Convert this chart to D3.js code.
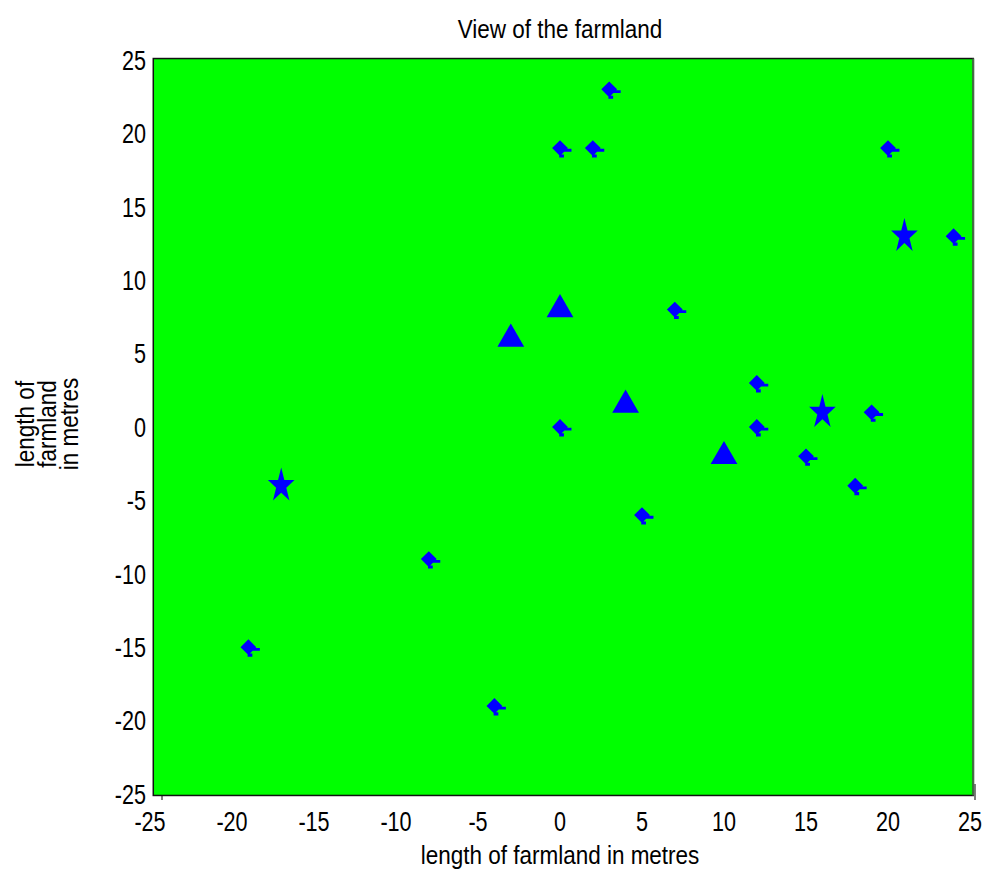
<!DOCTYPE html>
<html>
<head>
<meta charset="utf-8">
<script src="https://cdn.jsdelivr.net/npm/d3@7"></script>
<style>
  body { margin: 0; background: #fff; }
  text { font-family: "Liberation Sans", Arial, sans-serif; fill: #000; }
</style>
</head>
<body>
<div id="chart"></div>
<script>
// data
const plusX = [3, 0, 2, 20, 24, 7, 12, 0, 12, 19, 15, 18, 5, -8, -19, -4];
const plusY = [23, 19, 19, 19, 13, 8, 3, 0, 0, 1, -2, -4, -6, -9, -15, -19];
const triX = [0, -3, 4, 10];
const triY = [8, 6, 1.5, -2];
const starX = [-17, 16, 21];
const starY = [-4, 1, 13];
const ticks = [-25, -20, -15, -10, -5, 0, 5, 10, 15, 20, 25];
const fieldX = [-24.8, 25.2];
const fieldY = [-25.1, 25.1];

const W = 991, H = 872;
const svg = d3.select("#chart").append("svg")
  .attr("width", W).attr("height", H);

const x = d3.scaleLinear().domain([-25, 25]).range([150, 970]);
const y = d3.scaleLinear().domain([-25, 25]).range([794, 60]);

// small tick stubs peeking out from under the field
svg.append("line").attr("x1", x(-25) + 12).attr("x2", x(-25) + 12)
  .attr("y1", y(-25)).attr("y2", y(-25) + 6).attr("stroke", "#000");
svg.append("line").attr("x1", x(25) + 5).attr("x2", x(25) + 5)
  .attr("y1", y(-25) - 10).attr("y2", y(-25) + 6).attr("stroke", "#000");

// green field
svg.append("rect")
  .attr("x", x(fieldX[0])).attr("y", y(fieldY[1]))
  .attr("width", x(fieldX[1]) - x(fieldX[0]))
  .attr("height", y(fieldY[0]) - y(fieldY[1]))
  .attr("fill", "#00ff00").attr("stroke", "#111").attr("stroke-width", 1.5);
svg.append("line")
  .attr("x1", x(fieldX[1])).attr("x2", x(fieldX[1]))
  .attr("y1", y(fieldY[1])).attr("y2", y(fieldY[0]))
  .attr("stroke", "#4a6b4a").attr("stroke-width", 2);

// tick labels (tall, narrow lettering)
svg.append("g").selectAll("text").data(ticks).join("text")
  .attr("transform", d => `translate(${x(d)},831) scale(0.8,1)`)
  .attr("text-anchor", "middle").attr("font-size", 27)
  .text(d => d);
svg.append("g").selectAll("text").data(ticks).join("text")
  .attr("transform", d => `translate(146,${y(d)}) scale(0.8,1)`)
  .attr("dy", "0.36em")
  .attr("text-anchor", "end").attr("font-size", 27)
  .text(d => d);

// titles
svg.append("text").attr("transform", "translate(560,38) scale(0.9,1)")
  .attr("text-anchor", "middle").attr("font-size", 25)
  .text("View of the farmland");
svg.append("text").attr("transform", "translate(560,864) scale(0.9,1)")
  .attr("text-anchor", "middle").attr("font-size", 25)
  .text("length of farmland in metres");
const yl = svg.append("text").attr("transform", "translate(0,424) rotate(-90) scale(0.9,1)")
  .attr("text-anchor", "middle").attr("font-size", 25);
["length of", "farmland", "in metres"].forEach((s, i) => {
  yl.append("tspan").attr("x", 0).attr("y", 34 + i * 22).text(s);
});

// custom small marker: diamond with a little tail
const plusSym = {
  draw(ctx, size) {
    const r = Math.sqrt(size) / 2;
    ctx.moveTo(0, -r); ctx.lineTo(r, 0); ctx.lineTo(0, r); ctx.lineTo(-r, 0); ctx.closePath();
    ctx.moveTo(r * 0.4, r * 0.1); ctx.lineTo(r * 1.45, r * 0.1);
    ctx.lineTo(r * 1.45, r * 0.45); ctx.lineTo(r * 0.4, r * 0.45); ctx.closePath();
    ctx.moveTo(-r * 0.1, r * 0.8); ctx.lineTo(r * 0.5, r * 0.8);
    ctx.lineTo(r * 0.5, r * 1.2); ctx.lineTo(-r * 0.1, r * 1.2); ctx.closePath();
  }
};

const blue = "#0000ff";
svg.append("g").selectAll("path").data(plusX.map((d, i) => [d, plusY[i]])).join("path")
  .attr("transform", d => `translate(${x(d[0])},${y(d[1])})`)
  .attr("d", d3.symbol(plusSym, 250))
  .attr("fill", blue);

svg.append("g").selectAll("path").data(triX.map((d, i) => [d, triY[i]])).join("path")
  .attr("transform", d => `translate(${x(d[0])},${y(d[1])})`)
  .attr("d", d3.symbol(d3.symbolTriangle, 310))
  .attr("fill", blue);

svg.append("g").selectAll("path").data(starX.map((d, i) => [d, starY[i]])).join("path")
  .attr("transform", d => `translate(${x(d[0])},${y(d[1])}) scale(1,1.3)`)
  .attr("d", d3.symbol(d3.symbolStar, 220))
  .attr("fill", blue);
</script>
</body>
</html>
